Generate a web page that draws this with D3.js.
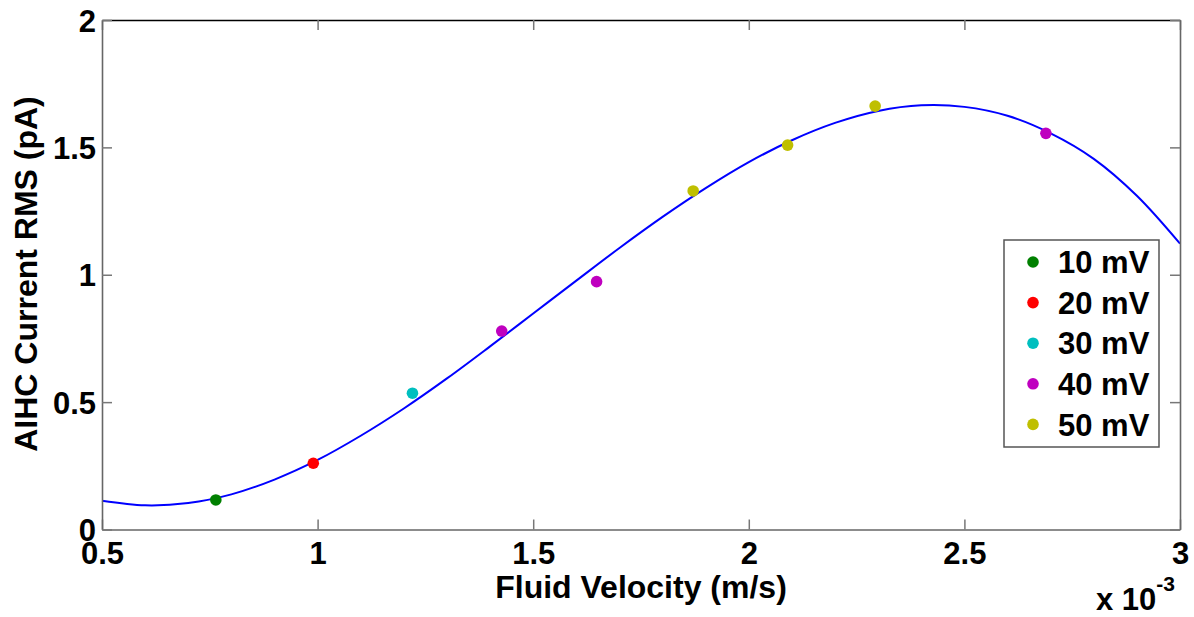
<!DOCTYPE html>
<html><head><meta charset="utf-8">
<script src="https://cdn.jsdelivr.net/npm/d3@7"></script>
<style>body{margin:0;background:#fff;} text{font-family:"Liberation Sans",Arial,sans-serif;font-weight:bold;}</style>
</head><body>
<svg id="c" width="1194" height="617"></svg>
<script>
// Data (x in units of 1e-3 m/s)
const xTicks = [0.5, 1, 1.5, 2, 2.5, 3];
const yTicks = [0, 0.5, 1, 1.5, 2];
const xTickLabels = ["0.5", "1", "1.5", "2", "2.5", "3"];
const yTickLabels = ["0", "0.5", "1", "1.5", "2"];
const seriesNames = ["10 mV", "20 mV", "30 mV", "40 mV", "50 mV"];
const seriesColors = ["#008000", "#ff0000", "#00bfbf", "#bf00bf", "#bfbf00"];
const s10 = [[0.764, 0.116]];
const s20 = [[0.990, 0.260]];
const s30 = [[1.220, 0.535]];
const s40 = [[1.427, 0.779], [1.647, 0.973], [2.689, 1.555]];
const s50 = [[1.871, 1.329], [2.090, 1.509], [2.293, 1.662]];
const fitX = [0.5,0.6,0.7,0.8,0.9,1.0,1.1,1.2,1.3,1.4,1.5,1.6,1.7,1.8,1.9,2.0,2.1,2.2,2.3,2.4,2.5,2.6,2.7,2.8,2.9,3.0];
const fitY = [0.113,0.095,0.104,0.138,0.196,0.273,0.368,0.475,0.593,0.719,0.848,0.977,1.105,1.227,1.340,1.442,1.528,1.596,1.643,1.665,1.659,1.624,1.555,1.455,1.310,1.122];

const svg = d3.select("#c");
const L = 102, R = 1180, T = 20, B = 529.5;
const x = d3.scaleLinear().domain([0.5, 3]).range([L, R]);
const y = d3.scaleLinear().domain([0, 2]).range([B, T]);

// Curve
const fit = fitX.map((v, i) => [v, fitY[i]]);
svg.append("path").datum(fit)
  .attr("fill", "none").attr("stroke", "#0000ff").attr("stroke-width", 2)
  .attr("d", d3.line().x(d => x(d[0])).y(d => y(d[1])).curve(d3.curveCatmullRom));

// Points
const allSeries = [s10, s20, s30, s40, s50];
allSeries.forEach((s, i) => {
  svg.append("g").selectAll("circle").data(s).join("circle")
    .attr("cx", d => x(d[0])).attr("cy", d => y(d[1])).attr("r", 5.8)
    .attr("fill", seriesColors[i]);
});

// Axes
const tickLen = 10;
const axB = svg.append("g").attr("transform", `translate(0,${B})`)
  .call(d3.axisBottom(x).tickValues(xTicks).tickSize(-tickLen).tickSizeOuter(0).tickPadding(12)
    .tickFormat((d, i) => xTickLabels[i]));
const axT = svg.append("g").attr("transform", `translate(0,${T})`)
  .call(d3.axisTop(x).tickValues(xTicks).tickSize(-tickLen).tickSizeOuter(0).tickFormat(""));
const axL = svg.append("g").attr("transform", `translate(${L},0)`)
  .call(d3.axisLeft(y).tickValues(yTicks).tickSize(-tickLen).tickSizeOuter(0).tickPadding(6)
    .tickFormat((d, i) => yTickLabels[i]));
const axR = svg.append("g").attr("transform", `translate(${R},0)`)
  .call(d3.axisRight(y).tickValues(yTicks).tickSize(-tickLen).tickSizeOuter(0).tickFormat(""));
[axB, axT, axL, axR].forEach(a => {
  a.selectAll(".domain").attr("stroke", "#666").attr("stroke-width", 1.6);
  a.selectAll(".tick line").attr("stroke", "#777").attr("stroke-width", 1.5);
  a.selectAll("text").attr("fill", "#000").style("font-size", "31px").style("font-family", "'Liberation Sans',Arial,sans-serif").style("font-weight", "bold");
});
axT.select(".domain").attr("stroke", "#000").attr("stroke-width", 1.4);
axB.selectAll(".tick text").attr("dy", "0.71em");
axL.selectAll(".tick text").attr("dy", "0.36em");

// Axis labels
svg.append("text").attr("x", 641).attr("y", 598).attr("text-anchor", "middle")
  .style("font-size", "32px").text("Fluid Velocity (m/s)");
svg.append("text").attr("transform", "translate(37,274) rotate(-90)").attr("text-anchor", "middle")
  .style("font-size", "32px").text("AIHC Current RMS (pA)");

// Exponent
const ex = svg.append("text").attr("x", 1096).attr("y", 610).style("font-size", "31px");
ex.append("tspan").text("x 10");
ex.append("tspan").attr("dy", -19).style("font-size", "21px").text("-3");

// Legend
const lg = svg.append("g");
lg.append("rect").attr("x", 1004).attr("y", 240).attr("width", 155).attr("height", 207)
  .attr("fill", "#fff").attr("stroke", "#555").attr("stroke-width", 1.5);
seriesNames.forEach((n, i) => {
  const cy = 262 + i * 40.6;
  lg.append("circle").attr("cx", 1033).attr("cy", cy).attr("r", 5.8).attr("fill", seriesColors[i]);
  lg.append("text").attr("x", 1058).attr("y", cy).attr("dy", "0.36em").style("font-size", "31px").text(n);
});
</script>
</body></html>
